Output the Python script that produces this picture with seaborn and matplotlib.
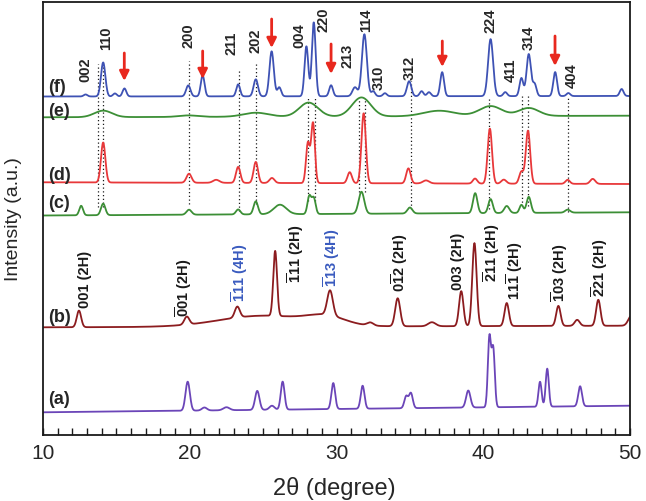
import matplotlib
matplotlib.use("Agg")
import matplotlib.pyplot as plt
from matplotlib.ticker import MultipleLocator
import numpy as np
import pandas as pd
import seaborn as sns

sns.set_theme(style="ticks")
plt.rcParams["font.family"] = ["Liberation Sans", "DejaVu Sans"]
plt.rcParams["mathtext.fontset"] = "custom"
plt.rcParams["mathtext.rm"] = "Liberation Sans"
plt.rcParams["mathtext.bf"] = "Liberation Sans:bold"
plt.rcParams["mathtext.default"] = "bf"

# ---- peak tables (2theta, height, fwhm), intensity in a.u. ----
# (a)
a_base = [22.7, 29.3]
a_pos = [19.86, 21.0, 22.5, 24.6, 25.6, 26.33, 29.78, 31.78, 34.75, 35.07, 38.98, 40.42, 40.68, 43.87, 44.36, 46.6]
a_hgt = [29, 3, 3, 19, 4, 28, 26, 23, 12, 15, 17, 70, 58, 25, 38, 20]
a_wid = [0.35, 0.4, 0.5, 0.35, 0.4, 0.3, 0.3, 0.3, 0.3, 0.3, 0.35, 0.25, 0.25, 0.25, 0.25, 0.3]
# (b)
b_base = [107.7, 109.3]
b_pos = [12.45, 19.8, 25.0, 29.3, 23.24, 25.82, 29.56, 32.3, 34.17, 36.5, 38.5, 39.4, 41.6, 45.12, 46.4, 47.84, 50.1]
b_hgt = [16.6, 8, 11, 8, 11, 65, 25, 3, 28, 4, 35, 83, 23, 20, 6, 26, 10]
b_wid = [0.35, 0.4, 7.0, 3.0, 0.4, 0.3, 0.45, 0.5, 0.4, 0.6, 0.35, 0.35, 0.35, 0.35, 0.4, 0.35, 0.5]
# (c)
c_base = [219.5, 222.7]
c_pos = [12.6, 14.1, 19.95, 23.3, 24.5, 26.15, 28.15, 28.45, 31.7, 35.0, 39.45, 40.5, 41.6, 42.6, 43.1, 45.75]
c_hgt = [9.5, 11.5, 5, 5, 13, 9.5, 18, 16, 22, 6, 20, 14, 7, 8, 16, 3]
c_wid = [0.3, 0.35, 0.4, 0.35, 0.35, 1.0, 0.3, 0.3, 0.45, 0.4, 0.35, 0.35, 0.4, 0.3, 0.35, 0.4]
# (d)
d_base = [252.7, 251.0]
d_pos = [14.1, 19.95, 21.8, 23.3, 24.5, 25.6, 28.05, 28.4, 30.9, 31.85, 34.9, 36.1, 39.44, 40.45, 41.4, 42.6, 43.05, 45.75, 47.46]
d_hgt = [40, 9, 3, 16, 21, 5, 40, 60, 11, 70, 15, 3, 5, 55, 4, 12, 53, 4, 5]
d_wid = [0.35, 0.4, 0.5, 0.35, 0.35, 0.4, 0.3, 0.3, 0.35, 0.35, 0.35, 0.5, 0.35, 0.35, 0.4, 0.35, 0.35, 0.35, 0.4]
# (e)
e_base = [317.7, 319.3]
e_pos = [14.1, 19.9, 24.5, 28.1, 31.7, 37.0, 40.5, 43.1]
e_hgt = [6.5, 1.5, 4, 14, 19, 5.5, 10, 8]
e_wid = [1.4, 1.5, 2.0, 1.5, 1.5, 2.5, 1.8, 1.6]
# (f)
f_base = [338.5, 339.0]
f_pos = [12.9, 14.1, 14.9, 15.55, 19.9, 20.88, 23.3, 24.5, 25.58, 26.1, 27.95, 28.45, 29.63, 31.26, 31.9,
         32.5, 33.3, 34.95, 35.8, 36.3, 37.2, 40.5, 41.5, 42.6, 43.1, 43.5, 44.9, 45.8, 49.43]
f_hgt = [2, 34, 3, 8, 11, 21, 12, 17, 45, 9, 50, 74, 11, 9, 62,
         5, 3, 15, 5, 4, 24, 57, 4, 18, 42, 12, 24, 3, 7]
f_wid = [0.3, 0.35, 0.3, 0.3, 0.35, 0.3, 0.3, 0.35, 0.35, 0.3, 0.3, 0.3, 0.3, 0.4, 0.4,
         0.3, 0.3, 0.35, 0.3, 0.3, 0.3, 0.4, 0.3, 0.3, 0.35, 0.3, 0.3, 0.3, 0.3]

samples = ["(a)", "(b)", "(c)", "(d)", "(e)", "(f)"]
colors = ["#6b45b8", "#8c1c1f", "#3c8f36", "#e8383a", "#3c8f36", "#3e52b4"]
label_y = [37, 119, 233, 260, 324, 349]

# (f) reflections
f_lbl = ["002", "110", "200", "211", "202", "004", "220", "213", "114", "310", "312", "224", "411", "314", "404"]
f_lbl_x = [12.9, 14.3, 19.9, 22.86, 24.45, 27.44, 29.1, 30.76, 32.05, 32.9, 34.96, 40.46, 41.9, 43.09, 46.0]
f_lbl_y = [354, 386, 388, 381, 383, 388, 404, 368, 404, 346, 356, 403, 354, 386, 348]

# (b) reflections
b_lbl = ["001 (2H)", r"$\overline{0}$01 (2H)", r"$\overline{1}$11 (4H)", r"$\overline{1}$11 (2H)",
         r"$\overline{1}$13 (4H)", r"0$\overline{1}$2 (2H)", "003 (2H)", r"$\overline{2}$11 (2H)",
         r"11$\overline{1}$ (2H)", r"$\overline{1}$03 (2H)", r"$\overline{2}$21 (2H)"]
b_lbl_x = [12.86, 19.56, 23.42, 27.24, 29.67, 34.28, 38.3, 40.57, 42.16, 45.23, 47.96]
b_lbl_y = [128, 119, 134, 153, 149, 144, 146, 154, 136, 134, 139]
b_lbl_c = ["k", "k", "#3a5bbf", "k", "#3a5bbf", "k", "k", "k", "k", "k", "k"]

# impurity arrows
arrow_x = [15.54, 20.88, 25.58, 29.63, 37.21, 44.89]
arrow_top = [382, 384, 416, 391, 394, 399]
arrow_tip = [354, 356, 387, 361, 368, 369]

# guide lines
guide_x = [13.73, 14.07, 19.95, 23.33, 24.49, 28.08, 28.54, 31.56, 31.94, 35.05, 40.41, 42.62, 43.07, 45.75]
guide_top = [371, 371, 374, 366, 373, 339, 339, 336, 336, 354, 336, 340, 340, 339]
guide_bot = [228, 228, 231, 224, 231, 234, 234, 243, 243, 226, 226, 229, 229, 223]

two_theta = np.linspace(10, 50, 2001)


def pattern(base, pos, hgt, wid):
    y = base[0] + (base[1] - base[0]) * (two_theta - 10) / 40
    for p, h, w in zip(pos, hgt, wid):
        y = y + h * np.exp(-4 * np.log(2) * ((two_theta - p) / w) ** 2)
    return y


tables = [(a_base, a_pos, a_hgt, a_wid), (b_base, b_pos, b_hgt, b_wid), (c_base, c_pos, c_hgt, c_wid),
          (d_base, d_pos, d_hgt, d_wid), (e_base, e_pos, e_hgt, e_wid), (f_base, f_pos, f_hgt, f_wid)]
frames = []
for name, tab in zip(samples, tables):
    frames.append(pd.DataFrame({"two_theta": two_theta, "intensity": pattern(*tab), "sample": name}))
df = pd.concat(frames, ignore_index=True)

fig = plt.figure(figsize=(6.46, 5.02), dpi=100)
ax = fig.add_axes([43 / 646, 1 - 436 / 502, 587 / 646, 433 / 502])

ax.vlines(guide_x, guide_bot, guide_top, colors="k", linestyles=(0, (1, 2)), lw=0.9, zorder=1)

sns.lineplot(data=df, x="two_theta", y="intensity", hue="sample", palette=dict(zip(samples, colors)),
             estimator=None, legend=False, lw=1.3, ax=ax, zorder=2)

for name, y in zip(samples, label_y):
    ax.text(10.35, y, name, fontsize=13, fontweight="bold", ha="left", va="center")

for t, x, y in zip(f_lbl, f_lbl_x, f_lbl_y):
    ax.text(x, y, t, rotation=90, fontsize=10.5, fontweight="bold", ha="center", va="bottom")

for t, x, y, c in zip(b_lbl, b_lbl_x, b_lbl_y, b_lbl_c):
    ax.text(x, y, t, rotation=90, fontsize=10.5, fontweight="bold", ha="center", va="bottom", color=c)

for x, y0, y1 in zip(arrow_x, arrow_top, arrow_tip):
    ax.annotate("", xy=(x, y1), xytext=(x, y0),
                arrowprops=dict(arrowstyle="-|>", color="#e8281e", lw=2, mutation_scale=14, shrinkA=0, shrinkB=0))

ax.set_xlim(10, 50)
ax.set_ylim(0, 433)
ax.xaxis.set_major_locator(MultipleLocator(10))
ax.xaxis.set_minor_locator(MultipleLocator(1))
ax.tick_params(axis="x", which="both", direction="in", length=5, width=1, color="k", labelsize=15, pad=6)
ax.set_yticks([])
for s in ax.spines.values():
    s.set_linewidth(1.3)
    s.set_color("k")

ax.set_xlabel("2θ (degree)", fontsize=17)
ax.set_ylabel("Intensity (a.u.)", fontsize=14)
ax.xaxis.set_label_coords(0.496, -0.095)
ax.yaxis.set_label_coords(-0.035, 0.5)

fig.savefig("out.png", dpi=100)
